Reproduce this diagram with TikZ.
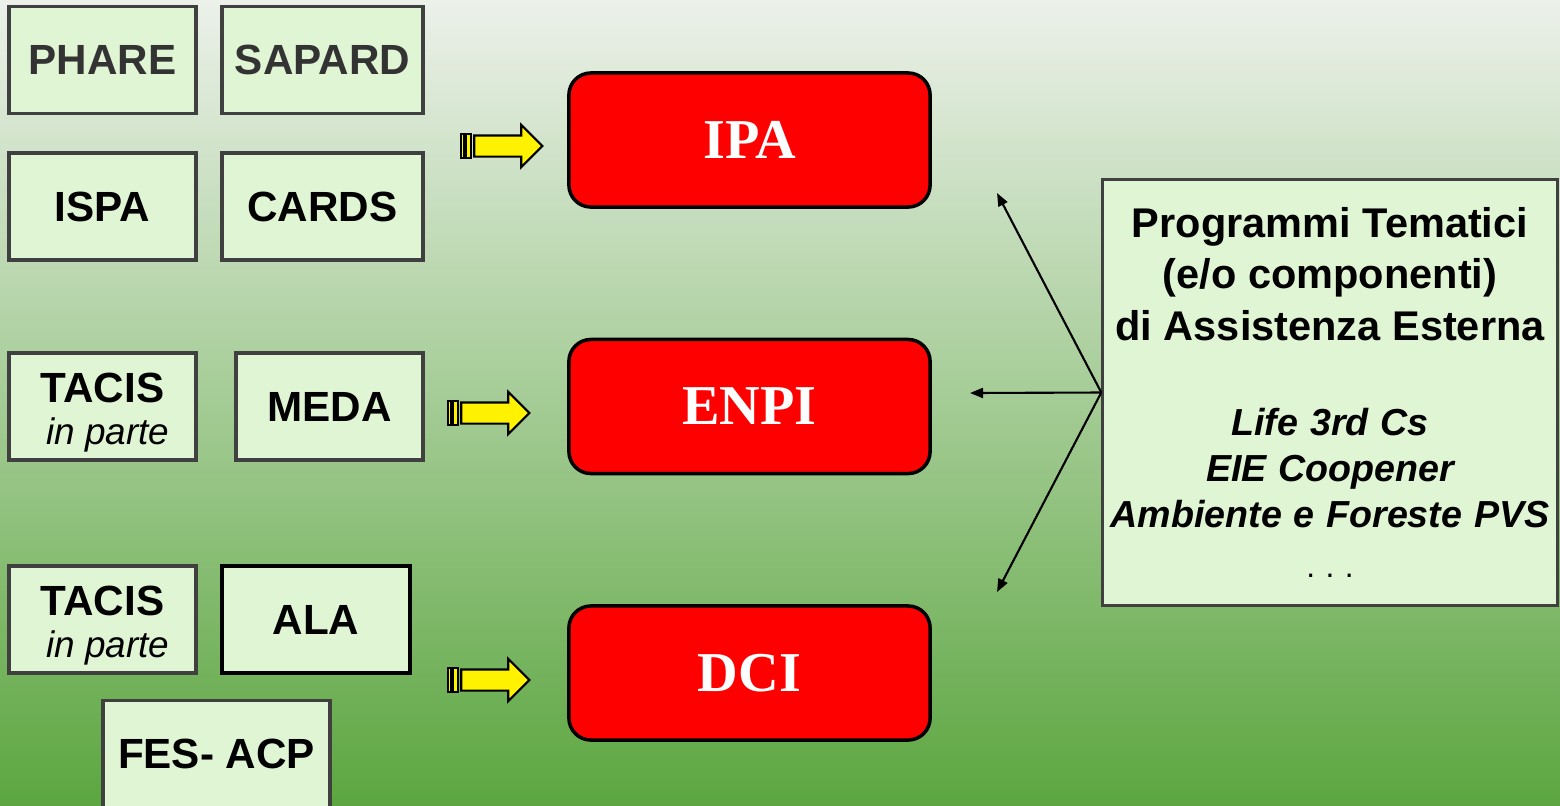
\documentclass[tikz,border=0pt]{standalone}
\usepackage{fontspec}
\setmainfont{Liberation Sans}
\newfontfamily\serifrosso{Liberation Serif}
\usetikzlibrary{shapes.arrows, arrows.meta}

\definecolor{fondoalto}{RGB}{236,241,234}
\definecolor{fondomezzo}{RGB}{168,204,152}
\definecolor{fondobasso}{RGB}{92,166,64}
\definecolor{verdino}{RGB}{224,245,211}
\definecolor{bordo}{RGB}{64,64,64}

\tikzset{
	vecchio/.style={draw=bordo, line width=0.9pt, fill=verdino, minimum width=1.87cm, minimum height=1.07cm, inner sep=0pt, align=center, font=\fontsize{12}{13}\selectfont\bfseries},
	nuovo/.style={draw=black, line width=1pt, fill=red, rounded corners=0.22cm, minimum width=3.61cm, minimum height=1.34cm, text=white, font=\serifrosso\fontsize{16}{18}\selectfont\bfseries},
	freccia/.style={single arrow, draw=black, line width=0.6pt, fill=yellow, minimum height=0.68cm, minimum width=0.40cm, inner sep=0.095cm, single arrow head extend=0.105cm},
	striscia/.style={draw=black, line width=0.6pt, fill=yellow},
	tema/.style={draw=bordo, line width=0.9pt, fill=verdino, minimum width=4.54cm, minimum height=4.25cm, text width=4.45cm, inner sep=0pt, align=center},
}

\begin{document}
\begin{tikzpicture}[x=0.01cm, y=-0.01cm]
	\useasboundingbox (0,0) rectangle (1560,805);
	\clip (0,0) rectangle (1560,805);
	\shade[top color=fondoalto, middle color=fondomezzo, bottom color=fondobasso] (0,0) rectangle (1560,805);

	% vecchi programmi
	\node[vecchio, text=bordo!80!black] (phare) at (102.5,60) {PHARE};
	\node[vecchio, text=bordo!80!black, minimum width=2.01cm] (sapard) at (322.5,60) {SAPARD};
	\node[vecchio] (ispa) at (102.5,206.5) {ISPA};
	\node[vecchio, minimum width=2.01cm] (cards) at (322.5,206.5) {CARDS};
	\node[vecchio] (tacisA) at (102.5,406.5) {\rule{0pt}{0.42cm}TACIS\\[-1pt] {\fontsize{10.5}{12}\selectfont\mdseries\itshape\ in parte}};
	\node[vecchio] (meda) at (329.5,406.5) {MEDA};
	\node[vecchio] (tacisB) at (102.5,619.5) {\rule{0pt}{0.42cm}TACIS\\[-1pt] {\fontsize{10.5}{12}\selectfont\mdseries\itshape\ in parte}};
	\node[vecchio, draw=black, minimum width=1.88cm] (ala) at (316,619.5) {ALA};
	\node[vecchio, minimum width=2.27cm, anchor=north] (fes) at (216.5,699) {FES- ACP};

	% frecce gialle
	\node[freccia] (frIPA) at (503,146) {};
	\node[freccia] (frENPI) at (490,413) {};
	\node[freccia] (frDCI) at (490,680) {};
	\foreach \f in {frIPA, frENPI, frDCI} {
		\draw[striscia] ([xshift=-0.125cm]\f.before tail) rectangle ([xshift=-0.095cm]\f.after tail);
		\draw[striscia] ([xshift=-0.075cm]\f.before tail) rectangle ([xshift=-0.025cm]\f.after tail);
	}

	% nuovi strumenti
	\node[nuovo] (ipa) at (749.5,140) {IPA};
	\node[nuovo] (enpi) at (749.5,406.5) {ENPI};
	\node[nuovo] (dci) at (749.5,673) {DCI};

	% programmi tematici
	\node[tema] (tematici) at (1330,392.5) {%
		{\fontsize{11.8}{14.6}\selectfont\bfseries Programmi Tematici\\ (e/o componenti)\\ di Assistenza Esterna\par}
		\vspace{14pt}
		{\fontsize{10.7}{13.1}\selectfont\bfseries\itshape Life 3rd Cs\\ EIE Coopener\\ Ambiente e Foreste PVS\par}
		\vspace{3.3pt}
		{\fontsize{9}{11}\selectfont .\,\,.\,\,.\par}};

	\coordinate (vIPA) at (997,193);
	\coordinate (vENPI) at (970,393);
	\coordinate (vDCI) at (997,592);
	\foreach \v in {vIPA, vENPI, vDCI}
		\draw[line width=0.6pt, -{Triangle[length=0.13cm, width=0.1cm]}] (tematici.west) -- (\v);
\end{tikzpicture}
\end{document}
